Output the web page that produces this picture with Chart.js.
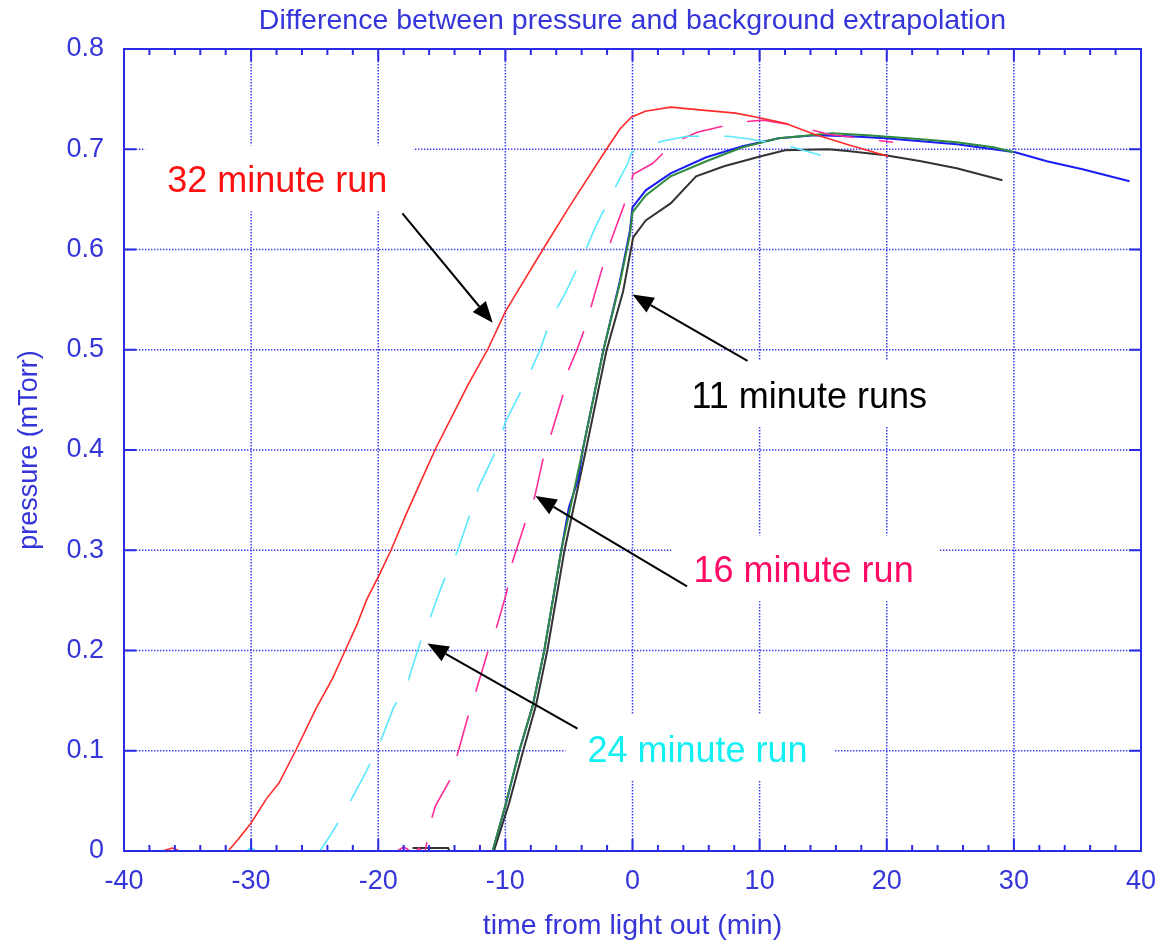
<!DOCTYPE html>
<html>
<head>
<meta charset="utf-8">
<title>Difference between pressure and background extrapolation</title>
<script src="https://cdn.jsdelivr.net/npm/chart.js@4.4.1/dist/chart.umd.min.js"></script>
<style>
html, body { margin: 0; padding: 0; background: #ffffff; }
#wrap { width: 1160px; height: 943px; }
</style>
</head>
<body>
<div id="wrap"><canvas id="chart" width="1160" height="943"></canvas></div>
<script>
// =========================
// DATA
// =========================

const xTickValues = [-40, -30, -20, -10, 0, 10, 20, 30, 40];
const yTickValues = [0, 0.1, 0.2, 0.3, 0.4, 0.5, 0.6, 0.7, 0.8];
const yTickLabels = ['0', '0.1', '0.2', '0.3', '0.4', '0.5', '0.6', '0.7', '0.8'];

// 32 minute run (red)
const run32Time = [-37, -36.2, -35.6, -31.8, -31, -30, -28.8, -27.8, -26.5, -24.9, -23.6, -22.6,
    -21.7, -20.9, -19.9, -19.0, -17.8, -16.5, -15.5, -14.7, -12.9, -11.4, -10.0, -9.2, -7.05,
    -4.95, -2.05, -1.0, -0.1, 1.0, 3.0, 5.5, 8.1, 9.8, 12.0, 14.3, 17.1, 20.1];
const run32Pressure = [0, 0.003, 0, 0, 0.012, 0.028, 0.052, 0.068, 0.1, 0.142, 0.172, 0.2,
    0.225, 0.251, 0.276, 0.3, 0.336, 0.373, 0.401, 0.421, 0.466, 0.5, 0.538, 0.555, 0.6,
    0.643, 0.7, 0.72, 0.732, 0.738, 0.742, 0.739, 0.736, 0.732, 0.726, 0.715, 0.704, 0.693];

// 24 minute run (cyan, dashed)
const run24Time = [-30.4, -30, -29.6, -24.6, -23.8, -22.6, -21.0, -19.95, -18.8, -17.7, -16.7,
    -15.9, -15.2, -14.7, -13.8, -12.7, -12.1, -10.6, -10.0, -8.4, -7.3, -6.4, -5.3, -3.76,
    -2.97, -1.4, -0.37, -0.08, 1.0, 2.3, 4.3, 7.5, 9.35, 12.6, 14.8];
const run24Pressure = [0, 0.003, 0, 0, 0.015, 0.04, 0.078, 0.105, 0.143, 0.168, 0.208,
    0.233, 0.258, 0.274, 0.298, 0.339, 0.363, 0.403, 0.428, 0.468, 0.499, 0.531, 0.556, 0.597,
    0.621, 0.661, 0.686, 0.697, 0.702, 0.708, 0.713, 0.713, 0.71, 0.702, 0.694];

// 16 minute run (pink, dashed)
const run16Time = [-18.5, -18.0, -17.5, -17.0, -16.8, -16.6, -16.3, -15.9, -15.5, -14.4, -13.8,
    -12.97, -12.3, -11.4, -10.7, -9.9, -9.45, -8.4, -7.7, -7.0, -6.35, -5.4, -5.0, -4.4, -3.76,
    -2.3, -1.66, -0.47, 0.06, 1.6, 3.3, 5.1, 8.4, 10.3, 12.6, 15.4, 18.5, 20.5];
const run16Pressure = [0, 0.004, 0, 0, 0.003, 0, 0, 0.028, 0.045, 0.07, 0.095,
    0.133, 0.16, 0.198, 0.223, 0.258, 0.288, 0.329, 0.353, 0.393, 0.418, 0.458, 0.481, 0.499, 0.521,
    0.585, 0.61, 0.651, 0.675, 0.686, 0.707, 0.717, 0.727, 0.729, 0.724, 0.715, 0.71, 0.707];

// 11 minute runs (blue, green, black)
const run11aTime = [-11.0, -10.0, -8.9, -7.85, -6.94, -5.6, -5.0, -4.26, -3.9, -2.3, -1.0, -0.2,
    0, 1.04, 3.0, 5.8, 8.65, 11.5, 14.3, 17.1, 19.9, 22.7, 25.5, 28.4, 30.1, 32.6, 35.4, 39.1];
const run11aPressure = [0, 0.045, 0.1, 0.145, 0.2, 0.3, 0.343, 0.371, 0.401, 0.499, 0.568, 0.619,
    0.642, 0.659, 0.676, 0.692, 0.703, 0.711, 0.714, 0.713, 0.711, 0.708, 0.705, 0.7, 0.697, 0.688, 0.68, 0.668];

const run11bTime = [-11.0, -9.95, -8.9, -7.85, -6.94, -5.6, -3.9, -2.3, -1.0, -0.2,
    0, 1.04, 3.0, 5.8, 8.65, 11.5, 15.7, 18.5, 22.7, 25.5, 28.4, 30.0];
const run11bPressure = [0, 0.048, 0.1, 0.145, 0.2, 0.3, 0.401, 0.499, 0.566, 0.615,
    0.637, 0.654, 0.673, 0.688, 0.702, 0.711, 0.716, 0.714, 0.71, 0.707, 0.702, 0.697];

const run11cTime = [-17.3, -14.5, -14.4, -10.9, -9.7, -8.6, -7.6, -6.7, -5.35, -3.65, -2.05, -0.74,
    0.05, 1.04, 3.0, 5.0, 7.2, 10.1, 12.0, 15.4, 17.1, 19.9, 22.7, 25.5, 29.1];
const run11cPressure = [0.003, 0.003, 0, 0, 0.048, 0.1, 0.145, 0.2, 0.3, 0.401, 0.499, 0.558,
    0.612, 0.629, 0.646, 0.673, 0.683, 0.693, 0.699, 0.7, 0.698, 0.694, 0.688, 0.681, 0.669];

// =========================
// STYLE
// =========================

const FONT = '"Liberation Sans", Arial, Helvetica, sans-serif';
const AXIS_BLUE = '#2b2be6';
const TEXT_BLUE = '#3535da';
const GRID_BLUE = '#3a3af0';

// annotations: text anchor (left, baseline) and arrow in data units
const notes = [
    { text: '32 minute run', color: '#ff1010', x: -36.6, y: 0.657,
      from: [-18.1, 0.636], to: [-11.0, 0.527] },
    { text: '11 minute runs', color: '#000000', x: 4.64, y: 0.442,
      from: [9.05, 0.489], to: [0.0, 0.555] },
    { text: '16 minute run', color: '#ff0a64', x: 4.8, y: 0.268,
      from: [4.29, 0.264], to: [-7.63, 0.354] },
    { text: '24 minute run', color: '#12f0f4', x: -3.54, y: 0.089,
      from: [-4.33, 0.122], to: [-16.13, 0.207] }
];

function pts(xs, ys) {
    return xs.map((v, i) => ({ x: v, y: ys[i] }));
}

// =========================
// PLUGIN: grid, frame, labels
// =========================

const decorPlugin = {
    id: 'decor',

    beforeDatasetsDraw(chart) {
        const { ctx, chartArea: a, scales: { x, y } } = chart;
        ctx.save();

        // dotted grid
        ctx.strokeStyle = GRID_BLUE;
        ctx.lineWidth = 1.5;
        ctx.setLineDash([1.4, 1.6]);
        xTickValues.slice(1, -1).forEach(v => {
            const px = x.getPixelForValue(v);
            ctx.beginPath();
            ctx.moveTo(px, a.top);
            ctx.lineTo(px, a.bottom);
            ctx.stroke();
        });
        yTickValues.slice(1, -1).forEach(v => {
            const py = y.getPixelForValue(v);
            ctx.beginPath();
            ctx.moveTo(a.left, py);
            ctx.lineTo(a.right, py);
            ctx.stroke();
        });
        ctx.setLineDash([]);

        // white boxes behind the annotation text
        ctx.font = '36px ' + FONT;
        notes.forEach(n => {
            const tx = x.getPixelForValue(n.x);
            const ty = y.getPixelForValue(n.y);
            const w = ctx.measureText(n.text).width;
            ctx.fillStyle = '#ffffff';
            ctx.fillRect(tx - 22, ty - 47, w + 48, 66);
        });

        ctx.restore();
    },

    afterDatasetsDraw(chart) {
        const { ctx, chartArea: a, scales: { x, y } } = chart;
        ctx.save();

        // frame
        ctx.strokeStyle = AXIS_BLUE;
        ctx.lineWidth = 2;
        ctx.strokeRect(a.left, a.top, a.right - a.left, a.bottom - a.top);

        // inward ticks
        ctx.beginPath();
        for (let v = -40; v <= 40; v += 2) {
            const px = x.getPixelForValue(v);
            const len = v % 10 === 0 ? 12 : 6;
            ctx.moveTo(px, a.bottom);
            ctx.lineTo(px, a.bottom - len);
            ctx.moveTo(px, a.top);
            ctx.lineTo(px, a.top + len);
        }
        yTickValues.forEach(v => {
            const py = y.getPixelForValue(v);
            ctx.moveTo(a.left, py);
            ctx.lineTo(a.left + 12, py);
            ctx.moveTo(a.right, py);
            ctx.lineTo(a.right - 12, py);
        });
        ctx.stroke();

        // title
        ctx.fillStyle = TEXT_BLUE;
        ctx.font = '28.5px ' + FONT;
        ctx.textAlign = 'center';
        ctx.textBaseline = 'alphabetic';
        ctx.fillText('Difference between pressure and background extrapolation',
            (a.left + a.right) / 2, 29);

        // annotations
        ctx.textAlign = 'left';
        ctx.font = '36px ' + FONT;
        notes.forEach(n => {
            ctx.fillStyle = n.color;
            ctx.fillText(n.text, x.getPixelForValue(n.x), y.getPixelForValue(n.y));

            const x0 = x.getPixelForValue(n.from[0]);
            const y0 = y.getPixelForValue(n.from[1]);
            const x1 = x.getPixelForValue(n.to[0]);
            const y1 = y.getPixelForValue(n.to[1]);
            const ang = Math.atan2(y1 - y0, x1 - x0);
            const hl = 21, hw = 8.5;
            const bx = x1 - hl * Math.cos(ang);
            const by = y1 - hl * Math.sin(ang);

            ctx.strokeStyle = '#000000';
            ctx.lineWidth = 2;
            ctx.beginPath();
            ctx.moveTo(x0, y0);
            ctx.lineTo(bx, by);
            ctx.stroke();

            ctx.fillStyle = '#000000';
            ctx.beginPath();
            ctx.moveTo(x1, y1);
            ctx.lineTo(bx + hw * Math.sin(ang), by - hw * Math.cos(ang));
            ctx.lineTo(bx - hw * Math.sin(ang), by + hw * Math.cos(ang));
            ctx.closePath();
            ctx.fill();
        });

        ctx.restore();
    }
};

// =========================
// CHART
// =========================

const lineBase = {
    showLine: true,
    pointRadius: 0,
    pointHoverRadius: 0,
    tension: 0,
    fill: false
};

new Chart(document.getElementById('chart'), {

    type: 'scatter',

    data: {
        datasets: [
            Object.assign({}, lineBase, {
                label: '32 minute run',
                data: pts(run32Time, run32Pressure),
                borderColor: '#ff2b2b',
                borderWidth: 1.6
            }),
            Object.assign({}, lineBase, {
                label: '24 minute run',
                data: pts(run24Time, run24Pressure),
                borderColor: '#5ae8ff',
                borderWidth: 1.6,
                borderDash: [42, 25]
            }),
            Object.assign({}, lineBase, {
                label: '16 minute run',
                data: pts(run16Time, run16Pressure),
                borderColor: '#ff2d95',
                borderWidth: 1.6,
                borderDash: [42, 25]
            }),
            Object.assign({}, lineBase, {
                label: '11 minute run B',
                data: pts(run11bTime, run11bPressure),
                borderColor: '#2e8b3e',
                borderWidth: 2
            }),
            Object.assign({}, lineBase, {
                label: '11 minute run A',
                data: pts(run11aTime, run11aPressure),
                borderColor: '#1c1cf5',
                borderWidth: 2
            }),
            Object.assign({}, lineBase, {
                label: '11 minute run C',
                data: pts(run11cTime, run11cPressure),
                borderColor: '#333333',
                borderWidth: 2
            })
        ]
    },

    options: {
        responsive: false,
        animation: false,
        devicePixelRatio: 1,
        layout: {
            padding: { left: 0, right: 19, top: 49, bottom: 0 }
        },
        plugins: {
            legend: { display: false },
            tooltip: { enabled: false }
        },
        scales: {
            x: {
                type: 'linear',
                min: -40,
                max: 40,
                afterBuildTicks: s => { s.ticks = xTickValues.map(v => ({ value: v })); },
                afterFit: s => {
                    s.height = 92;
                    s.paddingLeft = 0;
                    s.paddingRight = 0;
                },
                grid: { display: false, drawTicks: false },
                border: { display: false },
                ticks: {
                    padding: 14,
                    color: TEXT_BLUE,
                    font: { family: FONT, size: 27 },
                    maxRotation: 0,
                    callback: v => String(v)
                },
                title: {
                    display: true,
                    text: 'time from light out (min)',
                    color: TEXT_BLUE,
                    font: { family: FONT, size: 28.5 },
                    padding: { top: 8, bottom: 0 }
                }
            },
            y: {
                type: 'linear',
                min: 0,
                max: 0.8,
                afterBuildTicks: s => { s.ticks = yTickValues.map(v => ({ value: v })); },
                afterFit: s => {
                    s.width = 124;
                    s.paddingTop = 0;
                    s.paddingBottom = 0;
                },
                grid: { display: false, drawTicks: false },
                border: { display: false },
                ticks: {
                    padding: 20,
                    color: TEXT_BLUE,
                    font: { family: FONT, size: 27 },
                    callback: (v, i) => yTickLabels[i]
                },
                title: {
                    display: true,
                    text: 'pressure (mTorr)',
                    color: TEXT_BLUE,
                    font: { family: FONT, size: 27 },
                    padding: { top: 13, bottom: 0 }
                }
            }
        }
    },

    plugins: [decorPlugin]

});
</script>
</body>
</html>
